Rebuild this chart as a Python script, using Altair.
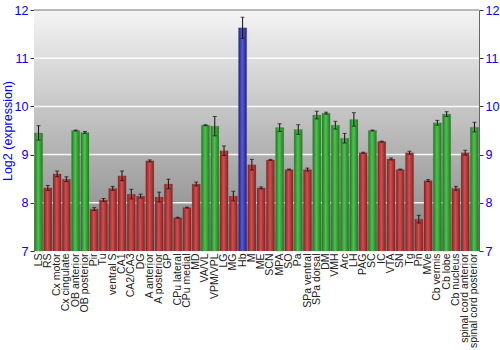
import altair as alt
import pandas as pd

regions = ["LS", "RS", "Cx motor", "Cx cingulate", "OB anterior", "OB posterior", "Pir", "Tu",
           "ventral S", "CA1", "CA2/CA3", "DG", "A anterior", "A posterior", "GP", "CPu lateral",
           "CPu medial", "MD", "VA/VL", "VPM/VPL", "LG", "MG", "Hb", "M", "ME", "SCN", "MPA",
           "SO", "Pa", "SPa ventral", "SPa dorsal", "DM", "VMH", "Arc", "LH", "PAG", "SC", "IC",
           "VTA", "SN", "Tg", "Pn", "MVe", "Cb vermis", "Cb lobe", "Cb nucleus",
           "spinal cord anterior", "spinal cord posterior"]
values = [9.45, 8.31, 8.60, 8.49, 9.50, 9.46, 7.87, 8.06,
          8.30, 8.56, 8.18, 8.14, 8.87, 8.12, 8.39, 7.69,
          7.90, 8.39, 9.61, 9.59, 9.08, 8.14, 11.63, 8.79, 8.31, 8.89, 9.56,
          8.69, 9.52, 8.69, 9.82, 9.86, 9.61, 9.34, 9.73, 9.04, 9.50, 9.27,
          8.91, 8.69, 9.04, 7.66, 8.46, 9.66, 9.84, 8.30,
          9.04, 9.57]
errors = [0.15, 0.05, 0.06, 0.05, 0.01, 0.02, 0.03, 0.03,
          0.04, 0.10, 0.10, 0.04, 0.02, 0.10, 0.10, 0.01,
          0.01, 0.04, 0.01, 0.20, 0.10, 0.10, 0.22, 0.11, 0.02, 0.01, 0.08,
          0.01, 0.10, 0.03, 0.08, 0.02, 0.08, 0.10, 0.14, 0.01, 0.01, 0.01,
          0.02, 0.01, 0.03, 0.08, 0.02, 0.05, 0.05, 0.04,
          0.05, 0.10]
levels = ["high", "mid", "mid", "mid", "high", "high", "mid", "mid",
          "mid", "mid", "mid", "mid", "mid", "mid", "mid", "mid",
          "mid", "mid", "high", "high", "mid", "mid", "top", "mid", "mid", "mid", "high",
          "mid", "high", "mid", "high", "high", "high", "high", "high", "mid", "high", "mid",
          "mid", "mid", "mid", "mid", "mid", "high", "high", "mid",
          "mid", "high"]
ticks = [7, 8, 9, 10, 11, 12]

df = pd.DataFrame({"region": regions, "value": values, "err": errors, "level": levels})
df["lo"] = df["value"] - df["err"]
df["hi"] = df["value"] + df["err"]

def grad(edge, mid):
    return alt.LinearGradient(
        gradient="linear", x1=0, y1=0, x2=1, y2=0,
        stops=[alt.GradientStop(color=edge, offset=0),
               alt.GradientStop(color=mid, offset=0.45),
               alt.GradientStop(color=edge, offset=1)])

xscale = alt.Scale(paddingInner=0.12, paddingOuter=0.05)
xenc = alt.X("region:N", sort=regions, scale=xscale,
             axis=alt.Axis(title=None, labelAngle=-90, labelFontSize=10.5,
                           labelFont="Liberation Sans", labelColor="#222222",
                           ticks=False, domain=False, labelPadding=2,
                           labelAlign="right", labelBaseline="middle"))
xplain = alt.X("region:N", sort=regions, scale=xscale)
yscale = alt.Scale(domain=[7, 12], nice=False)
yenc = alt.Y("value:Q", scale=yscale,
             axis=alt.Axis(title="Log2 (expression)", titleColor="#0000ff",
                           titleFontSize=12.5, titleFont="Liberation Sans", titleFontWeight="normal",
                           labelColor="#0000ff", labelFontSize=12.5, labelFont="Liberation Sans",
                           values=ticks, grid=False, domainColor="#666666", tickColor="#333333",
                           tickSize=4, titlePadding=0, labelPadding=2))

bg = alt.Chart(pd.DataFrame({"a": [0]})).mark_rect(
    fill=alt.LinearGradient(gradient="linear", x1=0, y1=0, x2=0, y2=1,
                            stops=[alt.GradientStop(color="#f4f4f4", offset=0),
                                   alt.GradientStop(color="#838383", offset=1)])
).encode(x=alt.value(0), x2=alt.value(445), y=alt.value(0), y2=alt.value(241))

grid = alt.Chart(pd.DataFrame({"g": [8, 9, 10, 11]})).mark_rule(
    color="#ffffff", strokeWidth=1.5, opacity=0.9
).encode(y=alt.Y("g:Q", scale=yscale))

base = alt.Chart(df)
colors = {"high": ("#1f7a1f", "#4fc24f"), "mid": ("#8a1e1e", "#cf5050"), "top": ("#1e1e8a", "#5a5ad6")}
bars = [
    base.transform_filter(alt.datum.level == k).mark_bar(
        fill=grad(*c), stroke="#555555", strokeWidth=0.3, strokeOpacity=0.5
    ).encode(x=xenc, y=yenc, y2=alt.datum(7))
    for k, c in colors.items()
]

rule = base.mark_rule(color="#111111", strokeWidth=1).encode(
    x=xplain, y=alt.Y("lo:Q", scale=yscale), y2="hi:Q")
cap_lo = base.mark_tick(color="#111111", thickness=1, size=4).encode(
    x=xplain, y=alt.Y("lo:Q", scale=yscale))
cap_hi = base.mark_tick(color="#111111", thickness=1, size=4).encode(
    x=xplain, y=alt.Y("hi:Q", scale=yscale))

top_line = alt.Chart(pd.DataFrame({"a": [0]})).mark_rule(color="#777777", strokeWidth=1).encode(
    x=alt.value(0), x2=alt.value(445), y=alt.value(0))

main = alt.layer(bars[0], bg, grid, *bars, rule, cap_lo, cap_hi, top_line)

right_axis = base.mark_point(opacity=0).encode(
    x=xplain,
    y=alt.Y("value:Q", scale=yscale,
            axis=alt.Axis(orient="right", title=None, labelColor="#0000ff", labelFontSize=12.5,
                          labelFont="Liberation Sans", values=ticks, grid=False,
                          domainColor="#666666", tickColor="#333333", tickSize=4, labelPadding=2)))

chart = alt.layer(main, right_axis).resolve_axis(y="independent").properties(
    width=445, height=241,
    autosize=alt.AutoSizeParams(type="none"),
    padding={"left": 34, "top": 10, "right": 21, "bottom": 99},
    background="#ffffff"
).configure_view(stroke=None)

chart.save("out.html", embed_options={"renderer": "svg", "actions": False})
